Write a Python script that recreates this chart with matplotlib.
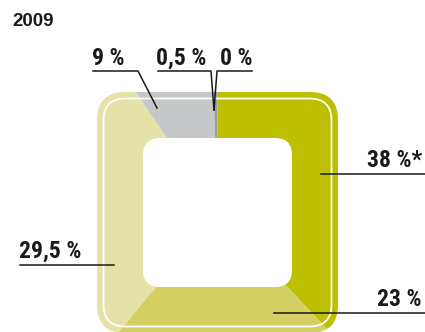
import matplotlib
matplotlib.use("Agg")
import matplotlib.pyplot as plt
from matplotlib.patches import FancyBboxPatch

# shares 2009, clockwise from 12 o'clock
labels = ["38 %*", "23 %", "29,5 %", "9 %", "0,5 %", "0 %"]
shares = [38, 23, 29.5, 9, 0.5, 0]
colors = ["#bebf00", "#d3cf62", "#e4e2a7", "#c6c7c9", "#9c9d9f", "#9c9d9f"]

cx, cy = 217.5, 212.5
outer = 241
inner = 149

fig = plt.figure(figsize=(4.25, 3.32), dpi=100)
ax = fig.add_axes([0, 0, 1, 1])

wedges, _ = ax.pie(shares, colors=colors, startangle=-90, counterclock=True,
                   radius=300, center=(cx, cy),
                   wedgeprops=dict(linewidth=0))
ax.set_xlim(0, 425)
ax.set_ylim(332, 0)
ax.set_aspect("auto")
ax.axis("off")

clip = FancyBboxPatch((cx - outer / 2, cy - outer / 2), outer, outer,
                      boxstyle="round,pad=0,rounding_size=28",
                      transform=ax.transData, facecolor="none", edgecolor="none")
ax.add_patch(clip)
for w in wedges:
    w.set_clip_on(True)
    w.set_clip_path(clip)

# white rim line
rim = outer - 13
ax.add_patch(FancyBboxPatch((cx - rim / 2, cy - rim / 2), rim, rim,
                            boxstyle="round,pad=0,rounding_size=22",
                            facecolor="none", edgecolor="white", linewidth=1.3))
# hole
ax.add_patch(FancyBboxPatch((cx - inner / 2, cy - inner / 2), inner, inner,
                            boxstyle="round,pad=0,rounding_size=17",
                            facecolor="white", edgecolor="none"))

font = ["Liberation Sans Narrow", "Roboto Condensed", "Roboto", "DejaVu Sans"]
lab = dict(family=font, fontweight="bold", fontsize=17, color="#1a1a1a")
ln = dict(color="#1a1a1a", linewidth=1.1)

ax.text(12, 26, "2009", family=["Liberation Sans", "DejaVu Sans"],
        fontweight="bold", fontsize=13.5, color="#1a1a1a")

# 9 %
ax.text(92, 65, labels[3], **lab)
ax.plot([93, 138, 157], [71, 71, 108], **ln)
# 0,5 %
ax.text(156, 65, labels[4], **lab)
ax.plot([158, 211, 214], [71, 71, 110], **ln)
# 0 %
ax.text(253, 65, labels[5], ha="right", **lab)
ax.plot([252, 217, 214], [71, 71, 110], **ln)
# 38 %
ax.text(422, 167, labels[0], ha="right", **lab)
ax.plot([321, 425], [174, 174], **ln)
# 29,5 %
ax.text(19, 258, labels[2], **lab)
ax.plot([20, 114], [265, 265], **ln)
# 23 %
ax.text(422, 306, labels[1], ha="right", **lab)
ax.plot([274, 425], [313, 313], **ln)

fig.savefig("out.png", dpi=100)
